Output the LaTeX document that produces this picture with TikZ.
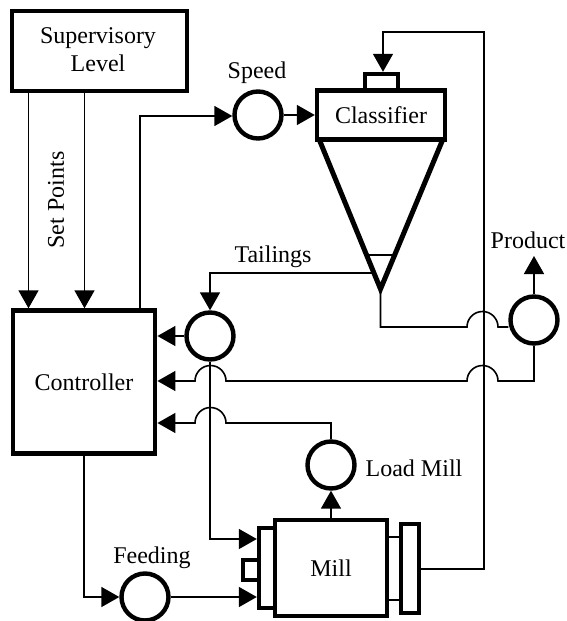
\documentclass[tikz,border=0pt]{standalone}
\usepackage{fontspec}
\setmainfont{Liberation Serif}
\usepackage{tikz}
\usetikzlibrary{arrows.meta}
\tikzset{
  block/.style={draw, line width=4.4pt, inner sep=0pt, align=center, font=\fontsize{24}{28}\selectfont},
  sensor/.style={draw, circle, line width=4.4pt, inner sep=0pt, minimum size=47pt},
  plain/.style={inner sep=0pt, font=\fontsize{24}{28}\selectfont},
  link/.style={line width=1.6pt},
  flow/.style={line width=1.6pt, -{Triangle[length=18pt,width=20pt]}}
}

\begin{document}
\begin{tikzpicture}[x=1pt, y=-1pt]
\useasboundingbox (0,0) rectangle (566,621);

\node (supervisory) at (99.5,51) [block, minimum width=175pt, minimum height=80pt]{};
\node (supervisorylabel) at (98,50) [plain, align=center]{Supervisory\\Level};
\node (controller) at (84,382) [block, minimum width=142.5pt, minimum height=143pt]{Controller};
\node (classifier) at (381,115) [block, minimum width=128pt, minimum height=49pt]{Classifier};
\node (damper) at (381.5,82) [block, minimum width=33pt, minimum height=16pt]{};
\node (mill) at (331,568) [block, minimum width=112pt, minimum height=96pt]{Mill};
\node (inlet) at (267,568) [block, minimum width=16pt, minimum height=80pt]{};
\node (gear) at (251,570) [block, minimum width=16pt, minimum height=20pt]{};
\node (drive) at (410,568.5) [block, minimum width=18pt, minimum height=89pt]{};

\node (speed) at (258,115) [sensor]{};
\node (tailsensor) at (210,336) [sensor]{};
\node (productsensor) at (534,320) [sensor]{};
\node (loadsensor) at (331,465) [sensor]{};
\node (feedsensor) at (145,597) [sensor]{};

\node (speedlabel) at (257,73) [plain]{Speed};
\node (tailingslabel) at (273,257) [plain]{Tailings};
\node (productlabel) at (528,240) [plain]{Product};
\node (loadlabel) at (414,468) [plain]{Load Mill};
\node (feedinglabel) at (152,558) [plain]{Feeding};
\node (setpoints) at (56,200) [plain, rotate=90]{Set Points};

\coordinate (set1) at (28.5,0);
\coordinate (set2) at (84.5,0);
\coordinate (speedout) at (140,0);
\coordinate (cone1) at (319,139);
\coordinate (cone2) at (380.5,289);
\coordinate (cone3) at (443,139);
\coordinate (tailout) at (373,273);
\coordinate (driveout) at (420,569);
\coordinate (producttip) at (534,256);
\coordinate (hop1) at (498,0);
\coordinate (hop2) at (226,0);

\draw [line width=5pt, line join=miter] (cone1) -- (cone2) -- (cone3);
\draw [link] (367,255) -- (395,255);
\draw [link] (mill.east |- 0,537) -- (drive.west |- 0,537);
\draw [link] (mill.east |- 0,600) -- (drive.west |- 0,600);

\draw [flow] (set1 |- supervisory.south) -- (set1 |- controller.north);
\draw [flow] (set2 |- supervisory.south) -- (set2 |- controller.north);
\draw [flow] (speedout |- controller.north) |- (speed.west |- 0,116);
\draw [flow] (speed.east) -- (classifier.west);
\draw [flow] (driveout) -| (484,32) -| (damper.north -| 383,0);
\draw [flow] (tailout) -| (tailsensor.north);
\draw [flow] (tailsensor.west) -- (controller.east |- tailsensor.west);
\draw [flow] (tailsensor.south) |- (inlet.west |- 0,539);
\draw [flow] (controller.south) |- (feedsensor.west);
\draw [flow] (feedsensor.east) -- (inlet.west |- feedsensor.east);
\draw [flow] (mill.north) -- (loadsensor.south);
\draw [flow] (productsensor.north) -- (producttip);
\draw [link] (cone2) |- (467,327) arc (180:0:15.5pt) -- (productsensor.west |- 0,327);
\draw [flow] (productsensor.south) |- (hop1 |- 0,381) arc (0:180:15.5pt) -- (hop2 |- 0,381) arc (0:180:15.5pt) -- (controller.east |- 0,381);
\draw [flow] (loadsensor.north) |- (hop2 |- 0,423) arc (0:180:15.5pt) -- (controller.east |- 0,423);

\end{tikzpicture}
\end{document}
